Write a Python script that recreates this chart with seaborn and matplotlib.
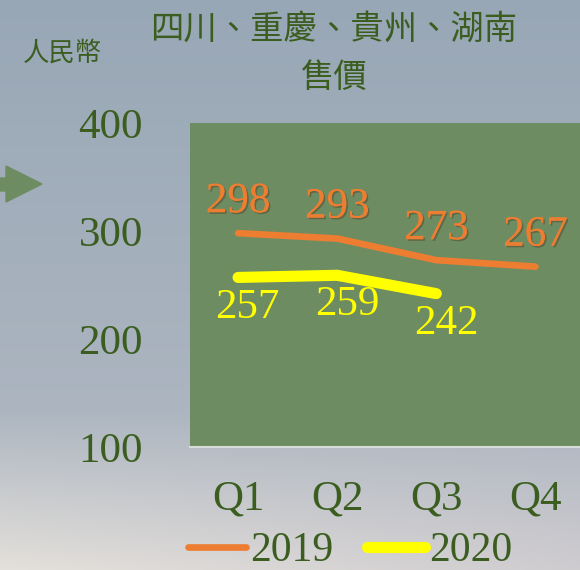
import numpy as np
import pandas as pd
import matplotlib
matplotlib.use('Agg')
import matplotlib.pyplot as plt
import matplotlib.patheffects as pe
from matplotlib.patches import Polygon
import seaborn as sns

# Datos del gráfico
quarters = ['Q1', 'Q2', 'Q3', 'Q4']
price_2019 = [298, 293, 273, 267]
price_2020 = [257, 259, 242, np.nan]
y_ticks = [100, 200, 300, 400]
title_line1 = '四川、重慶、貴州、湖南'
title_line2 = '售價'
unit_label = '人民幣'

GREEN_TXT = '#3B5E20'
PLOT_BG = '#6E8C62'
ORANGE = '#ED7D31'
YELLOW = '#FFFF00'

sns.set_style('white')
plt.rcParams['font.family'] = ['Liberation Serif', 'Noto Sans CJK TC']

fig = plt.figure(figsize=(5.8, 5.7), dpi=100)

# Fondo degradado (cielo)
bg = fig.add_axes([0, 0, 1, 1])
h, w = 570, 580
ys = np.linspace(0, 1, h)[:, None]
xs = np.linspace(0, 1, w)[None, :]
top = np.array([0x98, 0xA7, 0xB6]) / 255
mid = np.array([0xAC, 0xB5, 0xC0]) / 255
bot_l = np.array([0xE4, 0xE0, 0xDB]) / 255
bot_r = np.array([0xCF, 0xCC, 0xD0]) / 255
img = np.zeros((h, w, 3))
for c in range(3):
    upper = top[c] + (mid[c] - top[c]) * np.clip(ys / 0.72, 0, 1)
    bottom = bot_l[c] + (bot_r[c] - bot_l[c]) * xs
    t = np.clip((ys - 0.72) / 0.28, 0, 1)
    img[:, :, c] = upper * (1 - t) + bottom * t
bg.imshow(img, aspect='auto', extent=[0, 1, 0, 1])
bg.set_xlim(0, 1)
bg.set_ylim(0, 1)
bg.axis('off')

# Flecha decorativa
arrow = Polygon([[0, 1 - 178 / h], [6 / w, 1 - 178 / h], [6 / w, 1 - 166 / h],
                 [42 / w, 1 - 184 / h], [6 / w, 1 - 202 / h], [6 / w, 1 - 191 / h],
                 [0, 1 - 191 / h]], closed=True, color=PLOT_BG, transform=fig.transFigure)
fig.patches.append(arrow)

# Área del gráfico
ax = fig.add_axes([190 / w, (h - 447) / h, 390 / w, 324 / h])
ax.set_facecolor(PLOT_BG)

df19 = pd.DataFrame({'q': quarters, 'v': price_2019})
df20 = pd.DataFrame({'q': quarters, 'v': price_2020}).dropna()

sns.lineplot(data=df19, x='q', y='v', ax=ax, color=ORANGE, linewidth=4.8,
             label='2019', solid_capstyle='round', solid_joinstyle='round', legend=False)
sns.lineplot(data=df20, x='q', y='v', ax=ax, color=YELLOW, linewidth=8,
             label='2020', solid_capstyle='round', solid_joinstyle='round', legend=False)

shadow = [pe.withSimplePatchShadow(offset=(1.2, -1.2), alpha=0.35), pe.Normal()]
for i, v in enumerate(price_2019):
    ax.annotate(f'{v}', (i, v), xytext=(0, 22.5), textcoords='offset points',
                ha='center', va='center', fontsize=31, color=ORANGE,
                path_effects=shadow)
for i, v in enumerate(price_2020):
    if np.isnan(v):
        continue
    ax.annotate(f'{v:.0f}', (i, v), xytext=(7, -21.5), textcoords='offset points',
                ha='center', va='center', fontsize=31, color=YELLOW)

ax.set_xlim(-0.485, 3.45)
ax.set_ylim(100, 400)
ax.set_yticks(y_ticks)
ax.set_xticks(range(len(quarters)))
ax.set_xticklabels(quarters)
ax.set_xlabel('')
ax.set_ylabel('')
ax.tick_params(axis='y', length=0, pad=34, labelsize=31, labelcolor=GREEN_TXT)
ax.tick_params(axis='x', length=0, pad=24, labelsize=31, labelcolor=GREEN_TXT)
for s in ['top', 'right', 'left']:
    ax.spines[s].set_visible(False)
ax.spines['bottom'].set_color('#D8DCD6')
ax.spines['bottom'].set_linewidth(1.5)
ax.grid(False)

# Títulos
fig.text(334 / w, 1 - 29 / h, title_line1, ha='center', va='center', fontsize=24,
         color=GREEN_TXT, family=['Noto Sans CJK TC', 'DejaVu Sans'])
fig.text(334 / w, 1 - 77 / h, title_line2, ha='center', va='center', fontsize=24,
         color=GREEN_TXT, family=['Noto Sans CJK TC', 'DejaVu Sans'])
fig.text(62 / w, 1 - 53 / h, unit_label, ha='center', va='center', fontsize=19,
         color=GREEN_TXT, family=['Noto Sans CJK TC', 'DejaVu Sans'])

# Leyenda
handles, labels = ax.get_legend_handles_labels()
leg = fig.legend(handles, labels, loc='center', bbox_to_anchor=(350 / w, 1 - 551 / h),
                 ncol=2, frameon=False, fontsize=30, handlelength=1.4,
                 handletextpad=0.1, columnspacing=0.8, borderpad=0, borderaxespad=0)
for t in leg.get_texts():
    t.set_color(GREEN_TXT)

fig.savefig('out.png', dpi=100)
